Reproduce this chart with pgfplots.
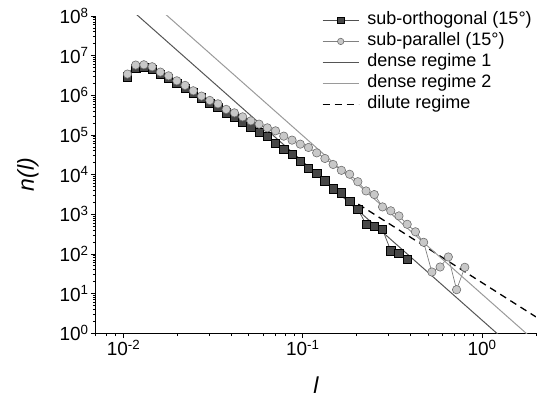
\documentclass[border=0pt]{standalone}
\usepackage{fontspec}
\setmainfont{Liberation Sans}
\usepackage{pgfplots}
\pgfplotsset{compat=1.18}
\definecolor{sqfill}{HTML}{474747}
\definecolor{sqline}{HTML}{505050}
\definecolor{cifill}{HTML}{C8C8C8}
\definecolor{ciedge}{HTML}{6E6E6E}
\definecolor{ciline}{HTML}{808080}
\definecolor{denseA}{HTML}{555555}
\definecolor{denseB}{HTML}{9A9A9A}
\begin{document}
\begin{tikzpicture}
\begin{axis}[
  scale only axis, width=440pt, height=317pt,
  xmode=log, ymode=log,
  xmin=0.007, xmax=2, ymin=1, ymax=1e8,
  axis lines=left, axis line style={-, line width=0.8pt, black},
  tick align=outside,
  major tick length=5pt, minor tick length=3pt,
  every tick/.style={black, line width=0.7pt},
  xtick={0.01,0.1,1},
  xticklabels={10\textsuperscript{-2},10\textsuperscript{-1},10\textsuperscript{0}},
  minor xtick={0.007,0.008,0.009,0.02,0.03,0.04,0.05,0.06,0.07,0.08,0.09,0.2,0.3,0.4,0.5,0.6,0.7,0.8,0.9,2},
  ytick={1,10,100,1000,1e4,1e5,1e6,1e7,1e8},
  yticklabels={10\textsuperscript{0},10\textsuperscript{1},10\textsuperscript{2},10\textsuperscript{3},10\textsuperscript{4},10\textsuperscript{5},10\textsuperscript{6},10\textsuperscript{7},10\textsuperscript{8}},
  minor ytick={2,3,4,5,6,7,8,9,20,30,40,50,60,70,80,90,200,300,400,500,600,700,800,900,2000,3000,4000,5000,6000,7000,8000,9000,2e4,3e4,4e4,5e4,6e4,7e4,8e4,9e4,2e5,3e5,4e5,5e5,6e5,7e5,8e5,9e5,2e6,3e6,4e6,5e6,6e6,7e6,8e6,9e6,2e7,3e7,4e7,5e7,6e7,7e7,8e7,9e7},
  tick label style={font=\fontsize{19}{21}\selectfont},
  yticklabel style={inner sep=2pt},
  xticklabel style={inner sep=2pt},
  xlabel={\itshape l}, ylabel={\itshape n(l)},
  label style={font=\fontsize{23}{25}\selectfont},
  xlabel style={at={(axis description cs:0.5,-0.164)}, anchor=center},
  ylabel style={at={(axis description cs:-0.154,0.5)}, anchor=center},
  legend style={draw=none, fill=none, at={(axis description cs:0.514,1.016)}, anchor=north west,
    font=\fontsize{18}{21}\selectfont, inner sep=0pt, outer sep=0pt, row sep=2pt,
    nodes={inner sep=1pt, text height=13pt, text depth=4pt},
    /tikz/every odd column/.append style={column sep=7pt}},
  legend cell align=left,
  legend image code/.code={\draw[mark repeat=2,mark phase=2,#1,mark size=3.2pt] plot coordinates {(0pt,0pt) (18pt,0pt) (36pt,0pt)};},
]
% dilute regime (drawn first, legend added at the end)
\addplot[black, line width=1.3pt, dash pattern=on 7pt off 5pt, forget plot] coordinates {
(0.01052,2.93e6) (0.01169,4.86e6) (0.01299,5.01e6) (0.01444,4.59e6) (0.01605,3.43e6)
(0.01784,2.67e6) (0.01983,2.00e6) (0.02204,1.49e6) (0.02450,1.16e6) (0.02723,8.65e5)
(0.03027,6.24e5) (0.03364,4.94e5) (0.03739,3.61e5) (0.04156,2.86e5) (0.04619,2.09e5)
(0.05134,1.60e5) (0.05706,1.16e5) (0.06342,9.33e4) (0.07049,6.10e4) (0.07834,4.31e4)
(0.08710,3.22e4) (0.09681,2.18e4) (0.1076,1.43e4) (0.1196,1.07e4) (0.1329,6.93e3)
(0.1477,4.37e3) (0.1642,3.40e3) (0.1825,2478) (2,2.57)
};
\addplot[sqline, line width=0.7pt, mark=square*, mark size=4.2pt,
  mark options={fill=sqfill, draw=black, line width=0.6pt, solid}] coordinates {
(0.01052,2.93e6) (0.01169,4.86e6) (0.01299,5.01e6) (0.01444,4.59e6) (0.01605,3.43e6)
(0.01784,2.67e6) (0.01983,2.00e6) (0.02204,1.49e6) (0.02450,1.16e6) (0.02723,8.65e5)
(0.03027,6.24e5) (0.03364,4.94e5) (0.03739,3.61e5) (0.04156,2.86e5) (0.04619,2.09e5)
(0.05134,1.60e5) (0.05706,1.16e5) (0.06342,9.33e4) (0.07049,6.10e4) (0.07834,4.31e4)
(0.08710,3.22e4) (0.09681,2.18e4) (0.1076,1.43e4) (0.1196,1.07e4) (0.1329,6.93e3)
(0.1477,4.37e3) (0.1642,3.45e3) (0.1825,2.13e3) (0.2028,1.34e3) (0.2254,558)
(0.2506,498) (0.2785,411) (0.3096,121) (0.3440,105) (0.3824,71.8)
};
\addlegendentry{sub-orthogonal (15°)}
\addplot[ciline, line width=0.7pt, mark=*, mark size=4.2pt,
  mark options={fill=cifill, draw=ciedge, line width=0.6pt, solid}] coordinates {
(0.01052,3.43e6) (0.01169,5.79e6) (0.01299,5.89e6) (0.01444,5.25e6) (0.01605,3.85e6)
(0.01784,3.10e6) (0.01983,2.32e6) (0.02204,1.78e6) (0.02450,1.30e6) (0.02723,9.55e5)
(0.03027,7.43e5) (0.03364,6.10e5) (0.03739,4.41e5) (0.04156,3.61e5) (0.04619,2.86e5)
(0.05134,2.27e5) (0.05706,1.87e5) (0.06342,1.51e5) (0.07049,1.27e5) (0.07834,9.33e4)
(0.08710,7.40e4) (0.09681,5.86e4) (0.1076,4.83e4) (0.1196,3.53e4) (0.1329,2.55e4)
(0.1477,1.80e4) (0.1642,1.28e4) (0.1825,1.02e4) (0.2028,6.61e3) (0.2254,3.87e3)
(0.2506,3.14e3) (0.2785,1.53e3) (0.3096,1.22e3) (0.3440,906) (0.3824,558)
(0.4250,361) (0.4724,196) (0.5251,34.9) (0.5836,46.7) (0.6486,83.6)
(0.7211,12.5) (0.8014,45.9)
};
\addlegendentry{sub-parallel (15°)}
\addplot[denseA, line width=1pt] coordinates {(0.01,2.13e8) (2,0.133)};
\addlegendentry{dense regime 1}
\addplot[denseB, line width=1pt] coordinates {(0.01,9.6e8) (2,0.6)};
\addlegendentry{dense regime 2}
\addlegendimage{black, line width=1.3pt, dash pattern=on 7pt off 5pt}
\addlegendentry{dilute regime}
\end{axis}
\pgfresetboundingbox
\path ([xshift=-95.7pt,yshift=-67pt]current axis.south west) rectangle ([xshift=11pt,yshift=16pt]current axis.north east);
\end{tikzpicture}
\end{document}
